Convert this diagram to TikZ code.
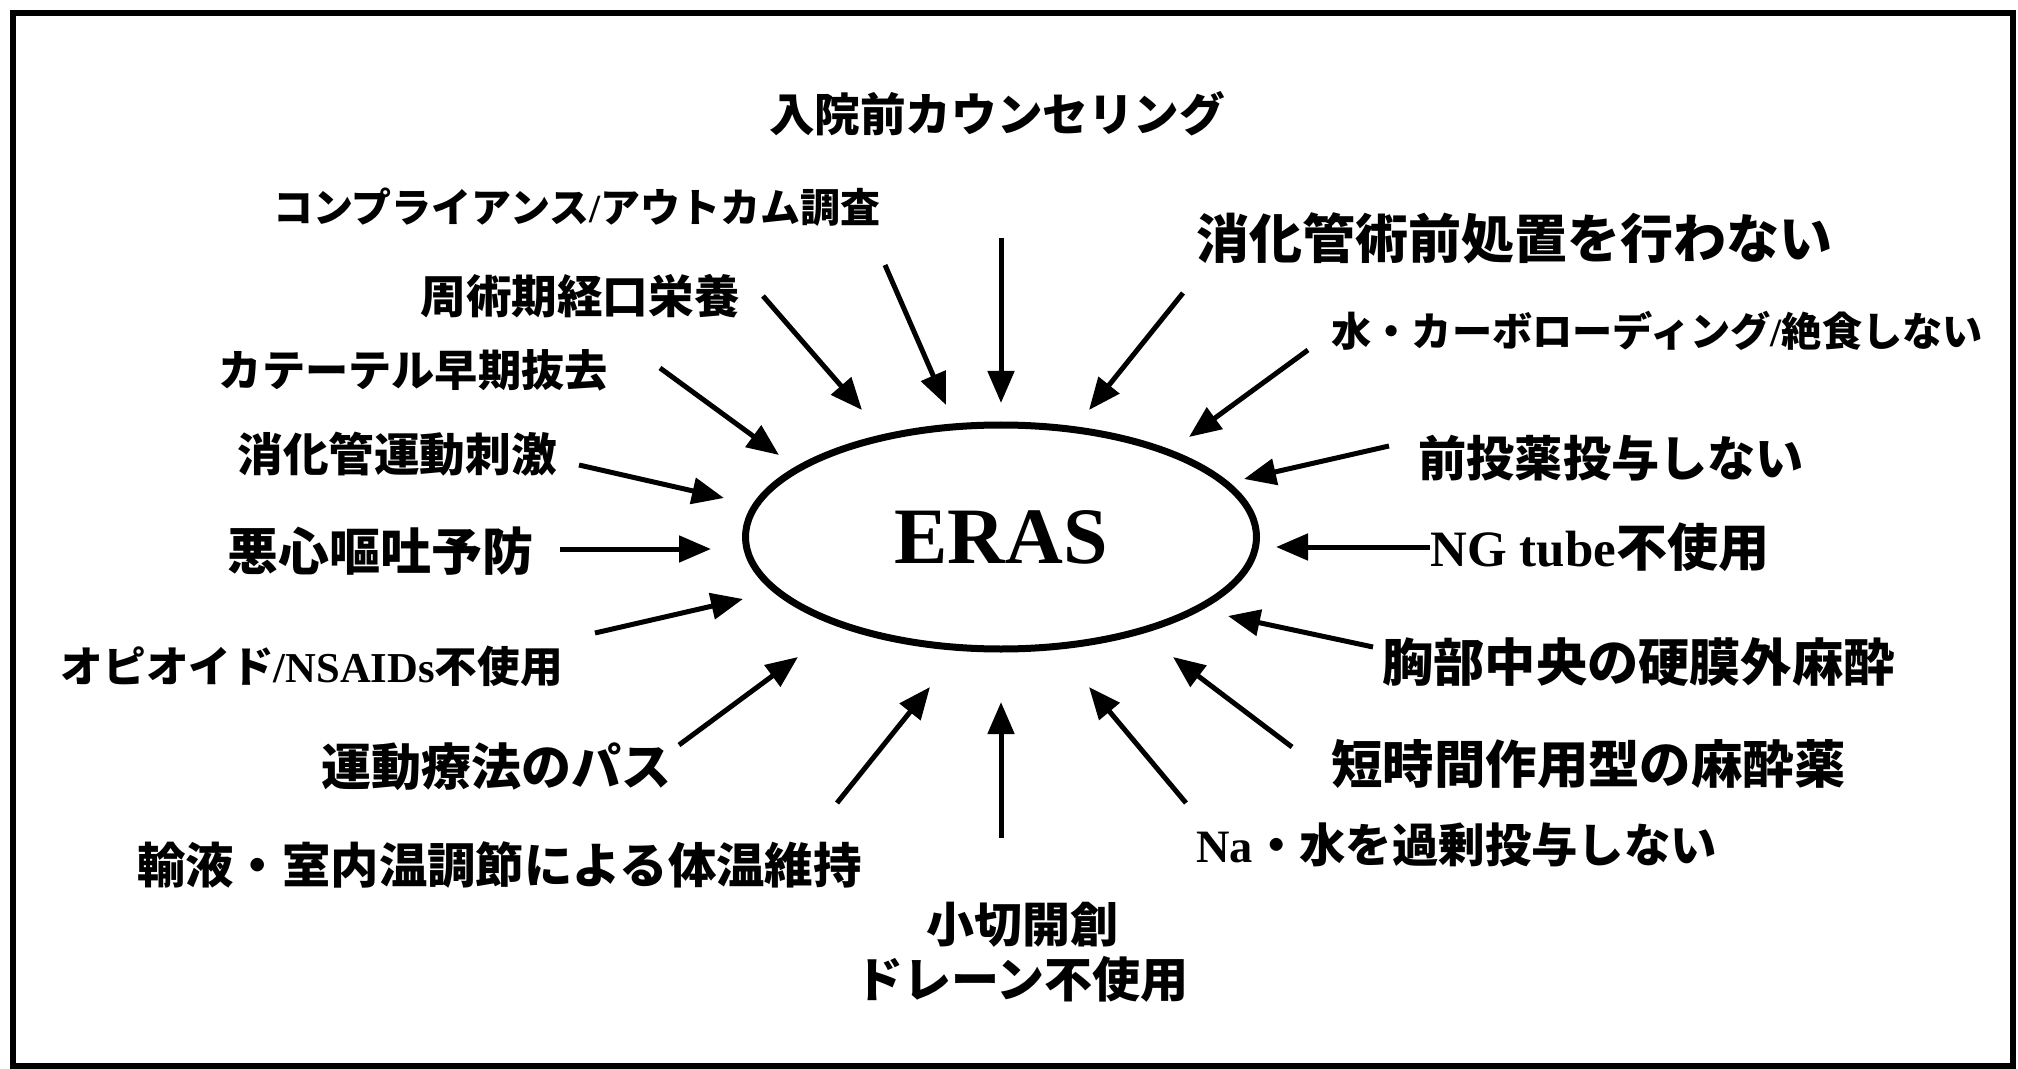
\documentclass[tikz,border=0pt]{standalone}
\usepackage{fontspec}
\setmainfont{Liberation Serif}
\newfontfamily\jp{Noto Sans CJK JP}
\newfontfamily\tmb{Liberation Serif Bold}
\usetikzlibrary{arrows.meta,shapes.geometric}
\newcommand{\fs}[1]{\fontsize{#1}{#1}\selectfont}
\newcommand{\lat}[1]{{\tmb #1}}
\begin{document}
\begin{tikzpicture}[x=0.5pt,y=-0.5pt,
  lbl/.style={inner sep=0pt},
  arr/.style={line width=2.5pt, -{Triangle[length=16pt,width=13pt]}},
]
\useasboundingbox (0,0) rectangle (2018,1069);
\draw[line width=3pt] (13,13) rectangle (2013,1066);

\node[draw, ellipse, line width=3.5pt, inner sep=0pt, minimum width=255.5pt, minimum height=112pt,
  font=\tmb\fs{40}] (eras) at (1001,537) {ERAS};

% labels
\node[lbl, font=\jp\bfseries\fs{22.8}] (l1) at (997,114) {入院前カウンセリング};
\node[lbl, anchor=east, font=\jp\bfseries\fs{20}] (l2) at (881,207) {コンプライアンス\lat{/}アウトカム調査};
\node[lbl, anchor=east, font=\jp\bfseries\fs{22.8}] (l3) at (740,296) {周術期経口栄養};
\node[lbl, anchor=east, font=\jp\bfseries\fs{21.6}] (l4) at (608,370) {カテーテル早期抜去};
\node[lbl, anchor=east, font=\jp\bfseries\fs{22.8}] (l5) at (557,454) {消化管運動刺激};
\node[lbl, anchor=east, font=\jp\bfseries\fs{25.5}] (l6) at (534,551) {悪心嘔吐予防};
\node[lbl, anchor=east, font=\jp\bfseries\fs{21.3}] (l7) at (563,666) {オピオイド\lat{/NSAIDs}不使用};
\node[lbl, anchor=east, font=\jp\bfseries\fs{25}] (l8) at (672,767) {運動療法のパス};
\node[lbl, anchor=east, font=\jp\bfseries\fs{24.2}] (l9) at (862,865) {輸液・室内温調節による体温維持};
\node[lbl, align=center, font=\jp\bfseries\fontsize{24}{27.5}\selectfont] (l10) at (1022,952) {小切開創\\ドレーン不使用};
\node[lbl, anchor=west, font=\jp\bfseries\fs{23.2}] (l11) at (1196,845) {\lat{Na}・水を過剰投与しない};
\node[lbl, anchor=west, font=\jp\bfseries\fs{25.7}] (l12) at (1331,764) {短時間作用型の麻酔薬};
\node[lbl, anchor=west, font=\jp\bfseries\fs{25.6}] (l13) at (1382,662) {胸部中央の硬膜外麻酔};
\node[lbl, anchor=west, font=\jp\bfseries\fs{25.5}] (l14) at (1430,547) {\lat{NG tube}不使用};
\node[lbl, anchor=west, font=\jp\bfseries\fs{24.1}] (l15) at (1418,458) {前投薬投与しない};
\node[lbl, anchor=west, font=\jp\bfseries\fs{20.1}] (l16) at (1331,331) {水・カーボローディング\lat{/}絶食しない};
\node[lbl, anchor=west, font=\jp\bfseries\fs{26.5}] (l17) at (1196,238) {消化管術前処置を行わない};

% arrow ends
\coordinate (s1) at (1001,238);  \coordinate (t1) at (1001,403);
\coordinate (s2) at (885,265);   \coordinate (t2) at (946,405);
\coordinate (s3) at (763,296);   \coordinate (t3) at (862,410);
\coordinate (s4) at (660,368);   \coordinate (t4) at (779,455);
\coordinate (s5) at (579,465);   \coordinate (t5) at (724,498);
\coordinate (s6) at (560,549);   \coordinate (t6) at (711,549);
\coordinate (s7) at (595,633);   \coordinate (t7) at (743,599);
\coordinate (s8) at (679,745);   \coordinate (t8) at (798,657);
\coordinate (s9) at (837,803);   \coordinate (t9) at (930,687);
\coordinate (s10) at (1001,838); \coordinate (t10) at (1001,702);
\coordinate (s11) at (1186,803); \coordinate (t11) at (1089,687);
\coordinate (s12) at (1292,747); \coordinate (t12) at (1173,657);
\coordinate (s13) at (1373,647); \coordinate (t13) at (1228,616);
\coordinate (s14) at (1430,547); \coordinate (t14) at (1276,547);
\coordinate (s15) at (1389,446); \coordinate (t15) at (1244,479);
\coordinate (s16) at (1308,350); \coordinate (t16) at (1189,437);
\coordinate (s17) at (1183,293); \coordinate (t17) at (1089,410);

\foreach \i in {1,...,17} {\draw[arr] (s\i) -- (t\i);}
\end{tikzpicture}
\end{document}
